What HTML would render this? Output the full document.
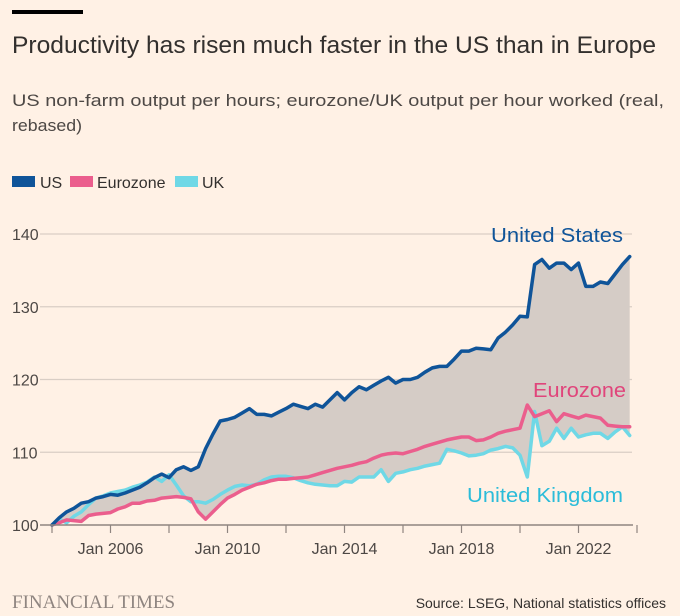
<!DOCTYPE html>
<html><head><meta charset="utf-8"><style>
html,body{margin:0;padding:0;background:#fff1e5;}
svg{display:block;font-family:"Liberation Sans",sans-serif;}
</style></head><body>
<svg id="chart" width="680" height="616" viewBox="0 0 680 616">
<rect x="0" y="0" width="680" height="616" fill="#fff1e5"/>
<rect x="12" y="10" width="71" height="4" fill="#000"/>
<text x="12" y="53" font-size="24" fill="#33302e" textLength="644" lengthAdjust="spacingAndGlyphs">Productivity has risen much faster in the US than in Europe</text>
<text x="12" y="106" font-size="16.5" fill="#4d4845" textLength="652" lengthAdjust="spacingAndGlyphs">US non-farm output per hours; eurozone/UK output per hour worked (real,</text>
<text x="12" y="131" font-size="16.5" fill="#4d4845" textLength="70" lengthAdjust="spacingAndGlyphs">rebased)</text>
<g>
<rect x="12" y="176" width="23" height="11" fill="#0f5499"/>
<text x="40" y="188" font-size="16" fill="#33302e">US</text>
<rect x="70" y="176" width="23" height="11" fill="#eb5e8d"/>
<text x="97" y="188" font-size="16" fill="#33302e">Eurozone</text>
<rect x="175" y="176" width="23" height="11" fill="#6fd8e6"/>
<text x="202" y="188" font-size="16" fill="#33302e">UK</text>
</g>
<g id="grid"></g>
<g id="fill"></g>
<g id="lines"></g>
<g id="axis"></g>
<text x="491" y="242" font-size="20" fill="#0f5499" textLength="132" lengthAdjust="spacingAndGlyphs">United States</text>
<text x="533" y="397" font-size="20" fill="#e0457b" textLength="93" lengthAdjust="spacingAndGlyphs">Eurozone</text>
<text x="467" y="502" font-size="20" fill="#2bbcd9" textLength="156" lengthAdjust="spacingAndGlyphs">United Kingdom</text>
<text x="12" y="608" font-size="19" fill="#8f8580" font-family="Liberation Serif, serif">FINANCIAL TIMES</text>
<text x="666" y="608" font-size="14" fill="#33302e" text-anchor="end">Source: LSEG, National statistics offices</text>
</svg>
<script>
const startYear = 2004;
const usValues = [100,101,101.8,102.3, 103,103.2,103.7,103.9, 104.2,104.1,104.4,104.8, 105.2,105.8,106.5,107, 106.5,107.6,108,107.5, 108,110.5,112.5,114.3, 114.5,114.8,115.4,116, 115.2,115.2,115.0,115.5, 116,116.6,116.3,116, 116.6,116.2,117.2,118.2, 117.2,118.2,119,118.6, 119.2,119.8,120.3,119.5, 120,120,120.3,121, 121.6,121.8,121.8,122.8, 123.9,123.9,124.3,124.2, 124.1,125.7,126.5,127.5, 128.7,128.6,135.8,136.5, 135.3,136,136,135.1, 136,132.8,132.8,133.4, 133.2,134.5,135.8,136.9];
const ezValues = [100,100.3,100.7,100.6, 100.5,101.3,101.5,101.6, 101.7,102.2,102.5,103, 103,103.3,103.4,103.7, 103.8,103.9,103.8,103.6, 101.8,100.8,101.8,102.8, 103.7,104.2,104.8,105.2, 105.6,105.8,106.1,106.3, 106.3,106.4,106.5,106.6, 106.9,107.2,107.5,107.8, 108,108.2,108.5,108.7, 109.2,109.6,109.8,109.9, 109.8,110.1,110.4,110.8, 111.1,111.4,111.7,111.9, 112.1,112.1,111.6,111.7, 112.1,112.6,112.9,113.1, 113.3,116.5,114.9,115.3, 115.7,114.2,115.3,115.0, 114.7,115.1,114.9,114.7, 113.7,113.6,113.5,113.5];
const ukValues = [100,100.8,100.3,101.2, 101.8,102.8,103.7,104, 104.4,104.6,104.8,105.2, 105.5,105.9,106.6,106, 106.9,105.5,104,103.2, 103.2,103,103.5,104.2, 104.8,105.3,105.5,105.4, 105.6,106.2,106.6,106.7, 106.7,106.5,106.1,105.8, 105.6,105.5,105.4,105.4, 106,105.9,106.6,106.6, 106.6,107.6,106,107.1, 107.3,107.6,107.8,108.1, 108.3,108.5,110.4,110.2, 109.9,109.5,109.6,109.8, 110.3,110.5,110.8,110.6, 109.6,106.6,115.6,110.9, 111.5,113.3,111.9,113.3, 112.1,112.4,112.6,112.6, 111.9,112.8,113.5,112.3];
const yTicks = [100,110,120,130,140];
const xTickYears = [2004,2006,2008,2010,2012,2014,2016,2018,2020,2022,2024];
const xTickLabels = ["Jan 2006","Jan 2010","Jan 2014","Jan 2018","Jan 2022"];
const xLabelYears = [2006,2010,2014,2018,2022];

const NS="http://www.w3.org/2000/svg";
function xs(t){return 52+(t-2004)*29.25;}
function ys(v){return 525-(v-100)*7.275;}
function mk(tag,attrs,parent){const e=document.createElementNS(NS,tag);for(const k in attrs)e.setAttribute(k,attrs[k]);parent.appendChild(e);return e;}
const gridG=document.getElementById('grid'),fillG=document.getElementById('fill'),linesG=document.getElementById('lines'),axisG=document.getElementById('axis');
yTicks.forEach(v=>{
  if(v!==100){const l=mk('line',{x1:40,x2:632,y1:ys(v),y2:ys(v),stroke:'#d9cec5','stroke-width':1.2},gridG);
  
  }
  const t=mk('text',{x:12,y:ys(v)+6,'font-size':16,fill:'#4d4845'},gridG);
  t.textContent=v;
  
  
});
const nPts=usValues.length;
const times=usValues.map((_,i)=>startYear+i*0.25);
const upperPts=[],lowerPts=[];
for(let i=0;i<nPts;i++){const hi=Math.max(usValues[i],ezValues[i],ukValues[i]),lo=Math.min(usValues[i],ezValues[i],ukValues[i]);upperPts.push(xs(times[i]).toFixed(1)+','+ys(hi).toFixed(1));lowerPts.unshift(xs(times[i]).toFixed(1)+','+ys(lo).toFixed(1));}
const area=mk('polygon',{points:upperPts.concat(lowerPts).join(' '),fill:'#d5ccc6'},fillG);


const seriesList=[[ukValues,'#6fd8e6','uk-line'],[ezValues,'#eb5e8d','eurozone-line'],[usValues,'#0f5499','us-line']];
seriesList.forEach(s=>{
  const pts=s[0].map((v,i)=>xs(times[i]).toFixed(1)+','+ys(v).toFixed(1)).join(' ');
  const p=mk('polyline',{points:pts,fill:'none',stroke:s[1],'stroke-width':3.5,'stroke-linejoin':'round','stroke-linecap':'round'},linesG);
  
  
});
const ax=mk('line',{x1:40,x2:633,y1:525,y2:525,stroke:'#8f8580','stroke-width':1.5},axisG);


xTickYears.forEach(yv=>{
  const t=mk('line',{x1:xs(yv),x2:xs(yv),y1:525,y2:533,stroke:'#8f8580','stroke-width':1.2},axisG);
  
  
});
xLabelYears.forEach((yv,i)=>{
  const t=mk('text',{x:xs(yv),y:554,'font-size':16,fill:'#4d4845','text-anchor':'middle'},axisG);
  t.textContent=xTickLabels[i];
  
  
});
</script>
</body></html>
